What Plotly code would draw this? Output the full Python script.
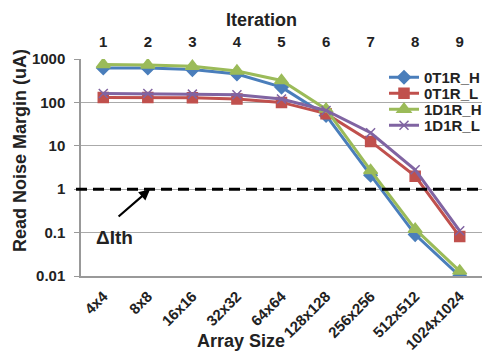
import plotly.graph_objects as go

array_sizes = ["4x4", "8x8", "16x16", "32x32", "64x64", "128x128", "256x256", "512x512", "1024x1024"]
iterations = ["1", "2", "3", "4", "5", "6", "7", "8", "9"]

t0_h = [620, 620, 570, 450, 225, 50, 2.1, 0.09, 0.01]
t0_l = [130, 130, 128, 120, 100, 55, 12.6, 2.0, 0.081]
d1_h = [750, 730, 680, 530, 320, 70, 2.7, 0.12, 0.013]
d1_l = [160, 160, 155, 150, 120, 65, 20, 2.8, 0.11]

series = [
    ("0T1R_H", t0_h, "#4A7EBB", "diamond", 10),
    ("0T1R_L", t0_l, "#C0504D", "square", 10),
    ("1D1R_H", d1_h, "#9BBB59", "triangle-up", 12),
    ("1D1R_L", d1_l, "#8064A2", "x-thin-open", 9),
]

threshold = 1
FONT = "Liberation Sans"
TXT = "#222222"

# The page body has an 8px margin; the figure is sized to fill the rest of the window.
OFF = 8
WIN_W, WIN_H = 494, 356
W, H = WIN_W - OFF, WIN_H - OFF
# plot area in window pixels: x 81..482, y 59..276
PX0, PX1, PY0, PY1 = 81, 482, 59, 276
L, R, T, B = PX0 - OFF, WIN_W - PX1, PY0 - OFF, WIN_H - PY1
PW, PH = PX1 - PX0, PY1 - PY0


def px(xw):
    return (xw - PX0) / PW


def py(yw):
    return (PY1 - yw) / PH


fig = go.Figure()
idx = list(range(len(array_sizes)))
legend_names = ["legend", "legend2", "legend3", "legend4"]
for k, (name, vals, col, sym, sz) in enumerate(series):
    fig.add_trace(go.Scatter(
        x=idx, y=vals, name=name, mode="lines+markers",
        line=dict(color=col, width=3),
        marker=dict(symbol=sym, size=sz, color=col, line=dict(color=col, width=1.5)),
        legend=legend_names[k],
    ))

# invisible trace for the top axis
fig.add_trace(go.Scatter(x=idx, y=[None] * len(idx), xaxis="x2", showlegend=False, hoverinfo="skip"))

# threshold dashed line
fig.add_shape(type="line", xref="paper", yref="y", x0=px(76), x1=1, y0=threshold, y1=threshold,
              line=dict(color="black", width=3, dash="11px,6px"), layer="above")
# small tick marks on the threshold line at category boundaries
for i in range(len(array_sizes) + 1):
    fig.add_shape(type="line", xref="x", yref="y", ysizemode="pixel", yanchor=threshold,
                  x0=i - 0.5, x1=i - 0.5, y0=0, y1=-5,
                  line=dict(color="#999999", width=1))

fig.add_annotation(x=1.05, y=0, xref="x", yref="y", ax=0.31, ay=-0.66, axref="x", ayref="y",
                   showarrow=True, arrowhead=2, arrowsize=1, arrowwidth=2.2, arrowcolor="black", text="")
fig.add_annotation(x=0.26, y=-1.12, xref="x", yref="y", showarrow=False,
                   xanchor="center", yanchor="middle", text="ΔIth",
                   font=dict(family=FONT, size=19, color=TXT, weight="bold"))

titlefont = dict(family=FONT, size=18, color=TXT, weight="bold")
# axis titles as annotations (placed like the reference)
fig.add_annotation(xref="paper", yref="paper", x=px(20), y=py(151), xanchor="center", yanchor="middle",
                   text="Read Noise Margin (uA)", textangle=-90, showarrow=False, font=titlefont)
fig.add_annotation(xref="paper", yref="paper", x=px(241), y=py(341), xanchor="center", yanchor="middle",
                   text="Array Size", showarrow=False, font=titlefont)
fig.add_annotation(xref="paper", yref="paper", x=px(261), y=py(20), xanchor="center", yanchor="middle",
                   text="Iteration", showarrow=False, font=titlefont, borderpad=0)

tickfont = dict(family=FONT, size=15, color=TXT, weight="bold")

legend_layout = {}
for k, ln in enumerate(legend_names):
    legend_layout[ln] = dict(
        x=px(384), y=py(61 + 16 * k), xanchor="left", yanchor="top",
        font=dict(family=FONT, size=15, color=TXT, weight="bold"),
        bgcolor="rgba(0,0,0,0)", itemwidth=30,
    )

fig.update_layout(
    width=W, height=H,
    margin=dict(l=L, r=R, t=T, b=B, autoexpand=False),
    paper_bgcolor="white", plot_bgcolor="white",
    showlegend=True,
    **legend_layout,
    xaxis=dict(
        tickmode="array", tickvals=idx, ticktext=array_sizes, tickangle=-45,
        range=[-0.5, len(idx) - 0.5], showgrid=False, zeroline=False,
        showline=True, linecolor="#999999", linewidth=1.5,
        tickfont=tickfont, ticks="", ticklabelstandoff=4, automargin=False,
    ),
    xaxis2=dict(
        overlaying="x", side="top", tickmode="array", tickvals=idx, ticktext=iterations,
        range=[-0.5, len(idx) - 0.5], showgrid=False, zeroline=False, showline=False,
        tickfont=tickfont, ticks="", ticklabelstandoff=8, automargin=False,
    ),
    yaxis=dict(
        type="log", range=[-2, 3], tickvals=[0.01, 0.1, 1, 10, 100, 1000],
        ticktext=["0.01", "0.1", "1", "10", "100", "1000"],
        showgrid=True, gridcolor="#AAAAAA", gridwidth=1,
        showline=True, linecolor="#999999", linewidth=1.5,
        ticks="outside", ticklen=5, tickcolor="#999999",
        tickfont=tickfont, zeroline=False, ticklabelstandoff=6, automargin=False,
    ),
)

fig.write_html("out.html")
